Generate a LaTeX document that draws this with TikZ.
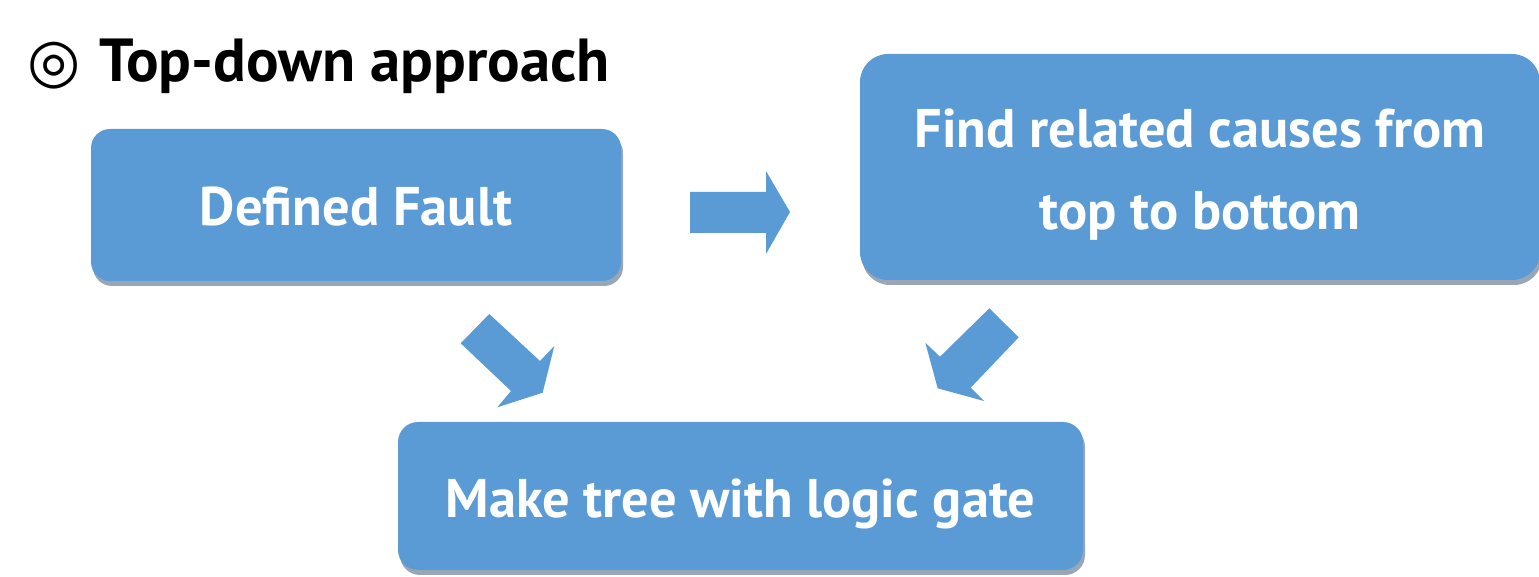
\documentclass[tikz,border=0pt]{standalone}
\usepackage{fontspec}
\setmainfont{PT Sans}
\newfontfamily\symfont{DejaVu Sans}
\usetikzlibrary{shadows}
\definecolor{boxblue}{RGB}{91,155,213}
\definecolor{shadowgray}{RGB}{152,166,182}
\tikzset{
  box/.style={rectangle, fill=boxblue, text=white, inner sep=0pt,
    font=\fontsize{27.2}{41}\selectfont\bfseries, align=center,
    drop shadow={shadow xshift=1pt, shadow yshift=-2.5pt, fill=shadowgray, opacity=1}},
  blockarrow/.style={fill=boxblue}
}
\begin{document}
\begin{tikzpicture}[x=0.5pt,y=-0.5pt]
\useasboundingbox (0,0) rectangle (1539,577);
% title
\node[anchor=base west, inner sep=0pt, font=\fontsize{30.4}{36}\selectfont\bfseries] (title) at (27,82)
  {\makebox[36pt][l]{\symfont\fontsize{30.5}{34}\selectfont ◎}Top-down approach};
% boxes
\node[box, minimum width=265pt, minimum height=76pt, rounded corners=9.5pt,
  text height=21pt, text depth=0pt] (fault) at (356,205) {Defined Fault};
\node[box, minimum width=340pt, minimum height=113pt, rounded corners=14pt,
  text height=63pt, text depth=0pt] (causes) at (1200,167) {Find related causes from\\top to bottom};
\node[box, minimum width=342.5pt, minimum height=74pt, rounded corners=10pt,
  text height=22pt, text depth=0pt] (tree) at (740.5,496) {Make tree with logic gate};
% block arrows
\fill[blockarrow] (690,192) -- (766,192) -- (766,171) -- (790,212) -- (766,254) -- (766,233) -- (690,233) -- cycle;
\fill[blockarrow] (460.7,343.3) -- (489.3,314) -- (540,361) -- (554.3,346) -- (542.7,392.7) -- (497.3,407.3) -- (511,391) -- cycle;
\fill[blockarrow] (989.3,308.3) -- (1018.7,337.3) -- (970.7,387.7) -- (984,401) -- (937.7,388.3) -- (925.3,342.7) -- (940,356.7) -- cycle;
\end{tikzpicture}
\end{document}
